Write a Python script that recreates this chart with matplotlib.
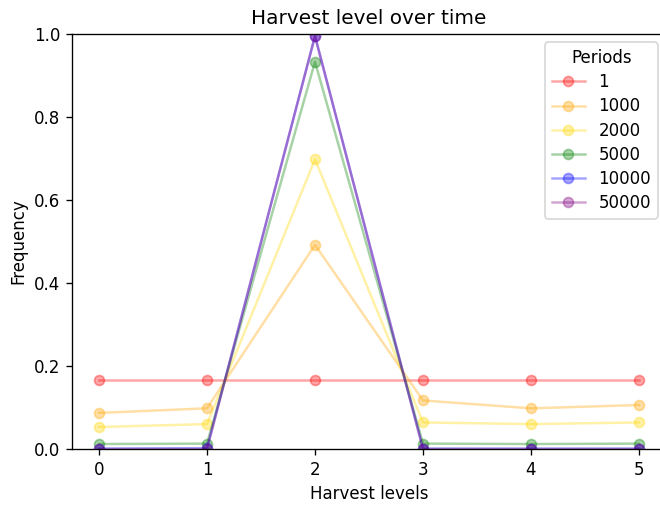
import numpy as np
import matplotlib.pyplot as plt

levels = [0, 1, 2, 3, 4, 5]
periods = ['1', '1000', '2000', '5000', '10000', '50000']
colors = ['red', 'orange', 'gold', 'green', 'blue', 'purple']

freq_1 = [0.1667, 0.1667, 0.1667, 0.1667, 0.1667, 0.1667]
freq_1000 = [0.087, 0.098, 0.492, 0.117, 0.098, 0.106]
freq_2000 = [0.053, 0.060, 0.698, 0.064, 0.060, 0.064]
freq_5000 = [0.012, 0.013, 0.933, 0.013, 0.012, 0.013]
freq_10000 = [0.001, 0.002, 0.995, 0.001, 0.001, 0.001]
freq_50000 = [0.0, 0.0, 0.995, 0.0, 0.0, 0.0]

series = [freq_1, freq_1000, freq_2000, freq_5000, freq_10000, freq_50000]

# rendered at a higher dpi, like the original notebook output
fig = plt.figure(figsize=(6.6 / 1.2, 5.31 / 1.2), dpi=120)
ax = fig.add_axes([72 / 660, 1 - 449 / 531, 594 / 660, 415 / 531])

for label, vals, c in zip(periods, series, colors):
    ax.plot(levels, vals, marker='o', color=c, alpha=0.35, label=label)

ax.set_ylim(0, 1)
ax.set_xlim(-0.25, 5.25)
ax.set_title('Harvest level over time')
ax.set_xlabel('Harvest levels')
ax.set_ylabel('Frequency')
ax.legend(title='Periods', loc='upper right', labelspacing=0.37)

fig.savefig('out.png', dpi=120)
